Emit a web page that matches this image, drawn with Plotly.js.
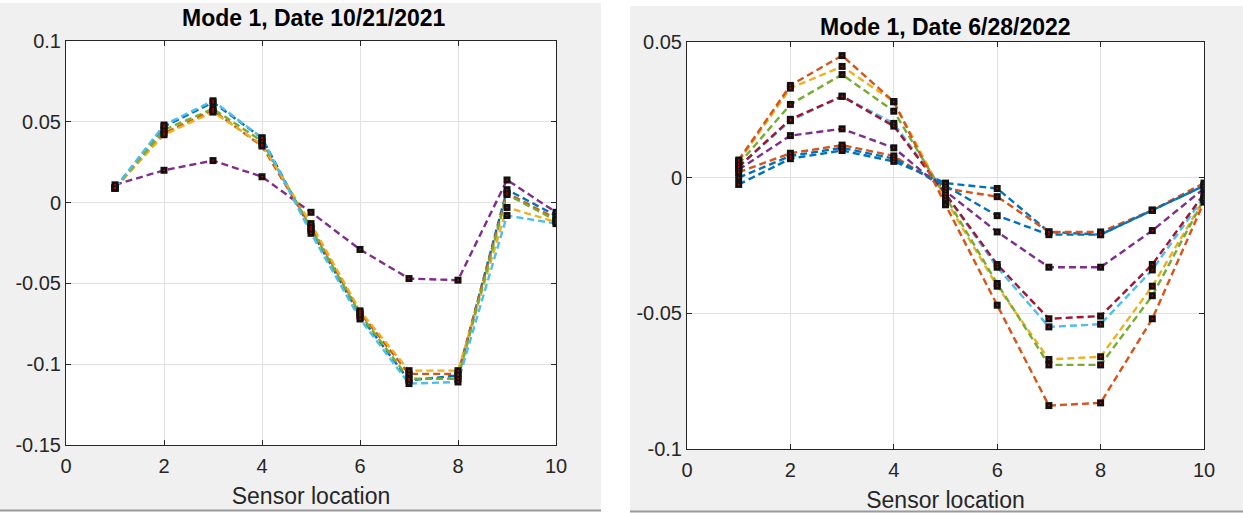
<!DOCTYPE html>
<html>
<head>
<meta charset="utf-8">
<script src="https://cdn.plot.ly/plotly-3.0.1.min.js"></script>
<style>
html,body{margin:0;padding:0;background:#fff;}
#chart{width:1243px;height:513px;}
</style>
</head>
<body>
<div id="chart"></div>
<script>
// ---- data ----
const sensorLocations = [1, 2, 3, 4, 5, 6, 7, 8, 9, 10];

// Left panel: Mode 1, Date 10/21/2021
const leftTitle = "Mode 1, Date 10/21/2021";
const left_blue   = [0.009, 0.047, 0.062, 0.040, -0.017, -0.070, -0.110, -0.107, 0.008, -0.008];
const left_orange = [0.009, 0.043, 0.057, 0.035, -0.015, -0.068, -0.106, -0.106, 0.006, -0.010];
const left_yellow = [0.009, 0.042, 0.056, 0.036, -0.013, -0.067, -0.104, -0.104, -0.003, -0.012];
const left_purple = [0.011, 0.020, 0.026, 0.016, -0.006, -0.029, -0.047, -0.048, 0.014, -0.006];
const left_green  = [0.009, 0.045, 0.058, 0.038, -0.016, -0.069, -0.109, -0.109, 0.005, -0.011];
const left_cyan   = [0.009, 0.048, 0.063, 0.040, -0.019, -0.072, -0.112, -0.111, -0.008, -0.013];

// Right panel: Mode 1, Date 6/28/2022
const rightTitle = "Mode 1, Date 6/28/2022";
const right_blue1   = [-0.0025, 0.007, 0.010, 0.006, -0.002, -0.004, -0.020, -0.021, -0.012, -0.003];
const right_orange1 = [0.002, 0.009, 0.012, 0.008, -0.004, -0.007, -0.020, -0.020, -0.012, -0.002];
const right_yellow  = [0.006, 0.033, 0.041, 0.028, -0.008, -0.040, -0.067, -0.066, -0.040, -0.008];
const right_purple  = [0.003, 0.0155, 0.018, 0.011, -0.005, -0.020, -0.033, -0.033, -0.0195, -0.004];
const right_green   = [0.005, 0.027, 0.038, 0.0245, -0.007, -0.039, -0.069, -0.069, -0.0435, -0.008];
const right_cyan    = [0.004, 0.021, 0.030, 0.020, -0.006, -0.033, -0.055, -0.054, -0.034, -0.007];
const right_darkred = [0.004, 0.0215, 0.030, 0.019, -0.006, -0.032, -0.052, -0.051, -0.032, -0.006];
const right_blue2   = [0.000, 0.008, 0.011, 0.007, -0.003, -0.014, -0.021, -0.021, -0.012, -0.003];
const right_orange2 = [0.0065, 0.034, 0.045, 0.028, -0.010, -0.047, -0.084, -0.083, -0.052, -0.009];

const xTickVals = [0, 2, 4, 6, 8, 10];
const leftYTickVals = [0.1, 0.05, 0, -0.05, -0.1, -0.15];
const leftYTickText = ["0.1", "0.05", "0", "-0.05", "-0.1", "-0.15"];
const rightYTickVals = [0.05, 0, -0.05, -0.1];
const rightYTickText = ["0.05", "0", "-0.05", "-0.1"];
const xLabel = "Sensor location";

// ---- styling ----
const C = {blue:'#0072BD', orange:'#D95319', yellow:'#EDB120', purple:'#7E2F8E',
           green:'#77AC30', cyan:'#4DBEEE', darkred:'#A2142F'};

const leftSeries = [
  [left_blue, C.blue], [left_orange, C.orange], [left_yellow, C.yellow],
  [left_purple, C.purple], [left_green, C.green], [left_cyan, C.cyan]
];
const rightSeries = [
  [right_blue1, C.blue], [right_orange1, C.orange], [right_yellow, C.yellow],
  [right_purple, C.purple], [right_green, C.green], [right_cyan, C.cyan],
  [right_darkred, C.darkred], [right_blue2, C.blue], [right_orange2, C.orange]
];

const traces = [];
function addPanel(series, xa, ya) {
  series.forEach(([ys, col]) => {
    traces.push({x: sensorLocations, y: ys, xaxis: xa, yaxis: ya, type: 'scatter',
      mode: 'lines', line: {color: col, width: 2.4, dash: '7px,4px'}, hoverinfo: 'skip', showlegend: false});
  });
  series.forEach(([ys, col]) => {
    traces.push({x: sensorLocations, y: ys, xaxis: xa, yaxis: ya, type: 'scatter',
      mode: 'markers', marker: {symbol: 'square', size: 7, color: '#111', line: {width: 0}},
      hoverinfo: 'skip', showlegend: false});
  });
  series.forEach(([ys, col]) => {
    traces.push({x: sensorLocations, y: ys, xaxis: xa, yaxis: ya, type: 'scatter',
      mode: 'markers', marker: {symbol: 'square', size: 1.5, color: '#c00', line: {width: 0}},
      hoverinfo: 'skip', showlegend: false});
  });
}
addPanel(leftSeries, 'x', 'y');
addPanel(rightSeries, 'x2', 'y2');

const W = 1243, H = 513;
const px = v => v / W, py = v => 1 - v / H;

const L = {x0: 66, x1: 556, y0: 41, y1: 445};
const R = {x0: 687, x1: 1204, y0: 42, y1: 449};

const FONT = '"Liberation Sans", Arial, Helvetica, sans-serif';
const tickFont = {family: FONT, size: 20, color: '#262626'};

function xAxis(dom, anchor) {
  return {domain: dom, anchor: anchor, range: [0, 10], tickvals: xTickVals, ticktext: xTickVals.map(String),
    showgrid: true, gridcolor: '#e1e1e1', gridwidth: 1, zeroline: false,
    showline: true, linecolor: '#262626', linewidth: 1, mirror: 'ticks',
    ticks: 'inside', ticklen: 5, tickcolor: '#262626', tickfont: tickFont, ticklabelstandoff: 3,
    title: {text: xLabel, font: {family: FONT, size: 23, color: '#262626'}, standoff: 11},
    fixedrange: true};
}
function yAxis(dom, anchor, range, vals, text) {
  return {domain: dom, anchor: anchor, range: range, tickvals: vals, ticktext: text,
    showgrid: true, gridcolor: '#e1e1e1', gridwidth: 1, zeroline: false,
    showline: true, linecolor: '#262626', linewidth: 1, mirror: 'ticks',
    ticks: 'inside', ticklen: 5, tickcolor: '#262626', tickfont: tickFont,
    fixedrange: true};
}

const layout = {
  width: W, height: H,
  margin: {l: 0, r: 0, t: 0, b: 0, pad: 0},
  paper_bgcolor: '#ffffff',
  plot_bgcolor: 'rgba(0,0,0,0)',
  showlegend: false,
  xaxis: xAxis([px(L.x0), px(L.x1)], 'y'),
  yaxis: yAxis([py(L.y1), py(L.y0)], 'x', [-0.15, 0.1], leftYTickVals, leftYTickText),
  xaxis2: xAxis([px(R.x0), px(R.x1)], 'y2'),
  yaxis2: yAxis([py(R.y1), py(R.y0)], 'x2', [-0.1, 0.05], rightYTickVals, rightYTickText),
  shapes: [
    {type: 'rect', xref: 'paper', yref: 'paper', x0: 0, x1: px(601), y0: py(510), y1: py(3),
     fillcolor: '#f0f0f0', line: {width: 0}, layer: 'below'},
    {type: 'rect', xref: 'paper', yref: 'paper', x0: px(630), x1: 1, y0: py(511), y1: py(6),
     fillcolor: '#f0f0f0', line: {width: 0}, layer: 'below'},
    {type: 'line', xref: 'paper', yref: 'paper', x0: 0, x1: px(601), y0: py(510.5), y1: py(510.5),
     line: {color: '#9a9a9a', width: 2}, layer: 'below'},
    {type: 'line', xref: 'paper', yref: 'paper', x0: px(630), x1: 1, y0: py(511.5), y1: py(511.5),
     line: {color: '#9a9a9a', width: 2}, layer: 'below'},
    {type: 'rect', xref: 'paper', yref: 'paper', x0: px(L.x0), x1: px(L.x1), y0: py(L.y1), y1: py(L.y0),
     fillcolor: '#ffffff', line: {width: 0}, layer: 'below'},
    {type: 'rect', xref: 'paper', yref: 'paper', x0: px(R.x0), x1: px(R.x1), y0: py(R.y1), y1: py(R.y0),
     fillcolor: '#ffffff', line: {width: 0}, layer: 'below'}
  ],
  annotations: [
    {text: '<b>' + leftTitle + '</b>', xref: 'paper', yref: 'paper', x: px((L.x0 + L.x1) / 2 + 3), y: py(18),
     xanchor: 'center', yanchor: 'middle', showarrow: false, font: {family: FONT, size: 23, color: '#000'}},
    {text: '<b>' + rightTitle + '</b>', xref: 'paper', yref: 'paper', x: px((R.x0 + R.x1) / 2), y: py(27),
     xanchor: 'center', yanchor: 'middle', showarrow: false, font: {family: FONT, size: 23, color: '#000'}}
  ]
};

Plotly.newPlot('chart', traces, layout, {staticPlot: true, displayModeBar: false});
</script>
</body>
</html>
